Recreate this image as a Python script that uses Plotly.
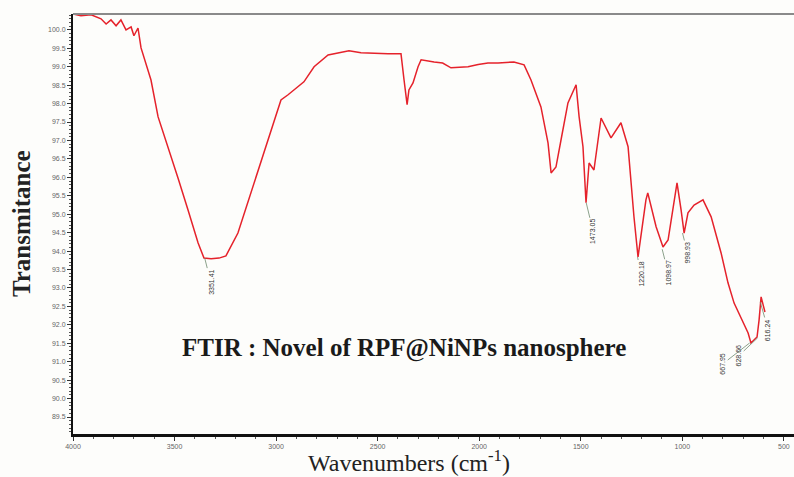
import plotly.graph_objects as go

# ---- data (wavenumber cm^-1, transmittance %) ----
wavenumber = [4000, 3961, 3911, 3862, 3837, 3813, 3788, 3764, 3739, 3714, 3700, 3680,
              3665, 3616, 3581, 3532, 3483, 3434, 3384, 3355, 3320, 3281, 3247, 3188,
              3124, 3074, 3025, 2976, 2941, 2863, 2813, 2744, 2641, 2582, 2449, 2385,
              2370, 2355, 2346, 2326, 2301, 2286, 2222, 2180, 2139, 2090, 2055, 2005,
              1957, 1907, 1858, 1829, 1779, 1745, 1696, 1661, 1646, 1622, 1597, 1563,
              1523, 1508, 1489, 1474, 1459, 1435, 1400, 1351, 1302, 1267, 1238, 1218,
              1179, 1170, 1129, 1095, 1070, 1041, 1026, 1006, 991, 972, 942, 898, 858,
              809, 775, 745, 711, 676, 662, 647, 632, 622, 612, 602, 593]
transmittance = [100.43, 100.38, 100.41, 100.30, 100.16, 100.27, 100.11, 100.27, 100.00,
                 100.08, 99.84, 100.05, 99.51, 98.64, 97.64, 96.83, 95.98, 95.12, 94.22,
                 93.81, 93.79, 93.81, 93.87, 94.49, 95.58, 96.47, 97.29, 98.10, 98.24,
                 98.59, 99.00, 99.32, 99.43, 99.38, 99.35, 99.35, 98.64, 97.97, 98.37,
                 98.56, 99.00, 99.19, 99.13, 99.10, 98.97, 98.99, 99.00, 99.06, 99.10,
                 99.10, 99.13, 99.13, 99.05, 98.64, 97.91, 96.93, 96.12, 96.28, 97.02,
                 98.02, 98.51, 97.64, 96.83, 95.31, 96.39, 96.20, 97.61, 97.07, 97.48,
                 96.83, 94.93, 93.84, 95.39, 95.58, 94.66, 94.11, 94.30, 95.39, 95.85,
                 95.12, 94.49, 95.04, 95.25, 95.39, 94.93, 93.95, 93.14, 92.59, 92.21,
                 91.78, 91.51, 91.59, 91.67, 92.13, 92.76, 92.54, 92.35]

peak_labels = ["3351.41", "1473.05", "1220.18", "1098.97", "998.93", "667.95", "628.66", "616.24"]
peak_wn = [3351.41, 1473.05, 1220.18, 1098.97, 998.93, 667.95, 628.66, 616.24]
peak_t = [93.81, 95.31, 93.84, 94.05, 94.49, 91.51, 91.65, 92.62]

y_ticks = [100.0, 99.5, 99.0, 98.5, 98.0, 97.5, 97.0, 96.5, 96.0, 95.5, 95.0, 94.5,
           94.0, 93.5, 93.0, 92.5, 92.0, 91.5, 91.0, 90.5, 90.0, 89.5]
x_ticks = [4000, 3500, 3000, 2500, 2000, 1500, 1000, 500]

title_text = "FTIR : Novel of RPF@NiNPs nanosphere"

# label offsets (pixels) from the marked point to the label centre
label_ax = [6, 7, 3, 6, 5, -27, -19, 8]
label_ay = [24, 29, 17, 24, 20, 21, 18, 28]

fig = go.Figure()
fig.add_trace(go.Scatter(
    x=wavenumber, y=transmittance, mode="lines",
    line=dict(color="#e5222b", width=1.5),
    hoverinfo="x+y", showlegend=False))

for lab, wx, ty, ax, ay in zip(peak_labels, peak_wn, peak_t, label_ax, label_ay):
    fig.add_annotation(
        x=wx, y=ty, text=lab, textangle=-90, showarrow=True,
        arrowhead=0, arrowwidth=0.8, arrowcolor="#6f8a6f", ax=ax, ay=ay,
        font=dict(family="Liberation Sans, Arial", size=7, color="#333333"))

fig.add_annotation(
    x=2370, y=91.37, text="<b>" + title_text + "</b>", showarrow=False,
    font=dict(family="Liberation Serif, Times New Roman", size=25, color="#1a1a1a"))

# axis titles
fig.add_annotation(
    xref="paper", yref="paper", x=-0.072, y=0.5, textangle=-90,
    text="<b>Transmitance</b>", showarrow=False, xanchor="center", yanchor="middle",
    font=dict(family="Liberation Serif, Times New Roman", size=25, color="#222222"))
fig.add_annotation(
    xref="paper", yref="paper", x=0.466, y=-0.064, yanchor="middle", xanchor="center",
    text="Wavenumbers (cm<sup>-1</sup>)", showarrow=False,
    font=dict(family="Liberation Serif, Times New Roman", size=24, color="#222222"))

# top frame line
fig.add_shape(type="line", xref="paper", yref="paper", x0=0, x1=1, y0=1, y1=1,
              line=dict(color="#8a8a8a", width=2))

fig.update_xaxes(
    range=[4000, 450], tickvals=x_ticks, ticktext=[str(v) for v in x_ticks],
    showgrid=False, zeroline=False, showline=True, linecolor="#111111", linewidth=3,
    ticks="outside", ticklen=4, tickwidth=1, tickcolor="#333333",
    minor=dict(dtick=100, ticks="outside", ticklen=2, tickcolor="#555555"),
    tickfont=dict(family="Liberation Sans, Arial", size=7, color="#666666"))
fig.update_yaxes(
    range=[89.04, 100.43], tickvals=y_ticks, ticktext=[f"{v:.1f}" for v in y_ticks],
    showgrid=False, zeroline=False, showline=True, linecolor="#111111", linewidth=2,
    ticks="outside", ticklen=4, tickwidth=1, tickcolor="#333333",
    minor=dict(dtick=0.1, ticks="outside", ticklen=2, tickcolor="#555555"),
    tickfont=dict(family="Liberation Sans, Arial", size=7, color="#666666"))

fig.update_layout(
    width=794, height=477,
    margin=dict(l=73, r=0, t=14, b=43),
    paper_bgcolor="#fdfdfb", plot_bgcolor="#fdfdfb",
    showlegend=False)

fig.write_html("out.html", config={"displayModeBar": False},
               post_script="document.body.style.margin='0';document.body.style.overflow='hidden';")
